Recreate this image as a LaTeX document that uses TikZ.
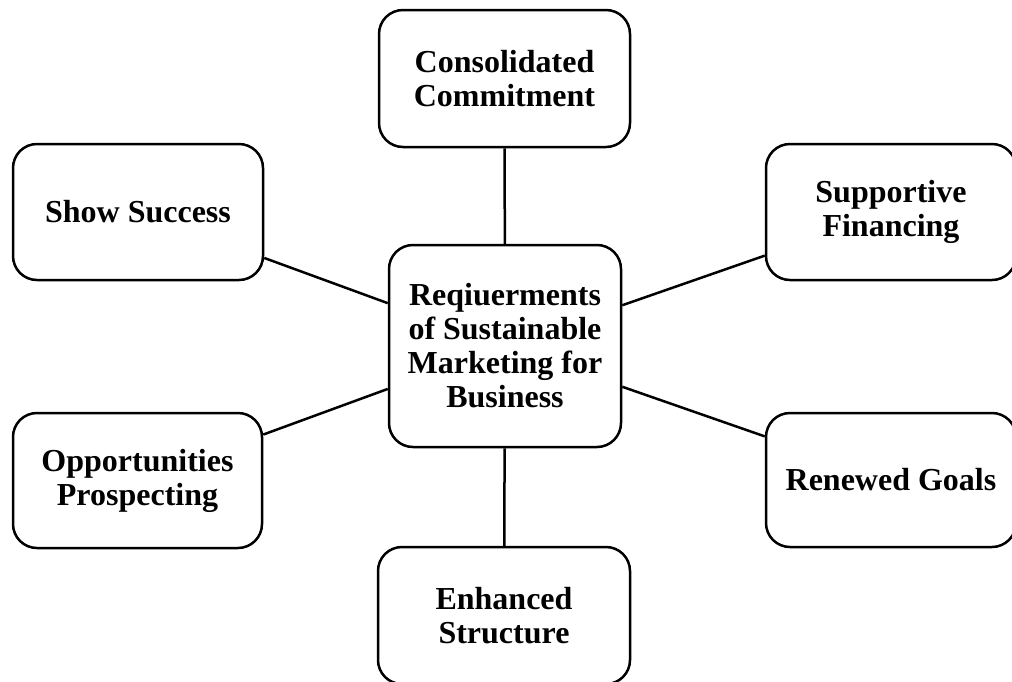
\documentclass[tikz,border=0pt]{standalone}
\usepackage{fontspec}
\setmainfont{Liberation Serif}
\begin{document}
\begin{tikzpicture}[x=1pt,y=1pt,
  box/.style={draw=black,line width=2.5pt,rounded corners=24pt,fill=white,
    align=center,font=\fontsize{32}{34}\selectfont\bfseries,inner sep=0pt},
  link/.style={draw=black,line width=2.5pt}]
\useasboundingbox (0,0) rectangle (1012,-681);
\clip (0,0) rectangle (1012,-681);
\node[box,minimum width=232pt,minimum height=202pt] (c) at (505,-346) {Reqiuerments\\of Sustainable\\Marketing for\\Business};
\node[box,minimum width=251pt,minimum height=137pt] (cc) at (504.5,-78.5) {Consolidated\\Commitment};
\node[box,minimum width=250pt,minimum height=136pt] (ss) at (138,-212) {Show Success};
\node[box,minimum width=250pt,minimum height=136pt] (sf) at (891,-212) {Supportive\\Financing};
\node[box,minimum width=249pt,minimum height=135pt] (op) at (137.5,-480.5) {Opportunities\\Prospecting};
\node[box,minimum width=250pt,minimum height=134pt] (rg) at (891,-480) {Renewed Goals};
\node[box,minimum width=252pt,minimum height=137pt] (es) at (504,-615.5) {Enhanced\\Structure};
\draw[link] (c) -- (cc);
\draw[link] (c) -- (ss);
\draw[link] (c) -- (sf);
\draw[link] (c) -- (op);
\draw[link] (c) -- (rg);
\draw[link] (c) -- (es);
\end{tikzpicture}
\end{document}
